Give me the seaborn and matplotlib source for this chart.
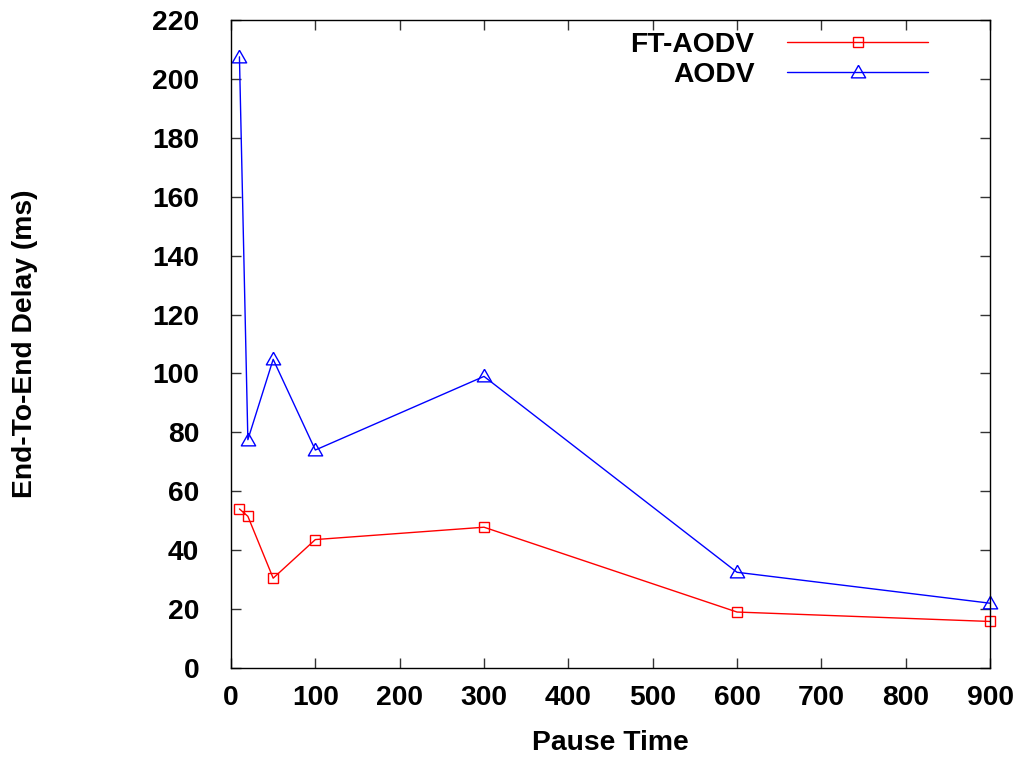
import matplotlib
matplotlib.use("Agg")
import matplotlib.pyplot as plt
import seaborn as sns
import pandas as pd

# Pause time (s) and end-to-end delay (ms) for each protocol
pause_time = [10, 20, 50, 100, 300, 600, 900]
ft_aodv_delay = [54.0, 51.5, 30.5, 43.6, 47.8, 19.0, 15.8]
aodv_delay = [207.5, 77.5, 104.8, 74.0, 99.0, 32.5, 22.0]
series_names = ["FT-AODV", "AODV"]

x_ticks = list(range(0, 1000, 100))
y_ticks = list(range(0, 240, 20))

df = pd.concat([
    pd.DataFrame({"Pause Time": pause_time, "Delay": ft_aodv_delay, "Protocol": series_names[0]}),
    pd.DataFrame({"Pause Time": pause_time, "Delay": aodv_delay, "Protocol": series_names[1]}),
])

sns.set_theme(style="ticks")
plt.rcParams["font.family"] = ["Liberation Sans", "DejaVu Sans"]
plt.rcParams["font.weight"] = "bold"
plt.rcParams["text.color"] = "black"
plt.rcParams["axes.labelcolor"] = "black"
plt.rcParams["xtick.labelcolor"] = "black"
plt.rcParams["ytick.labelcolor"] = "black"
FS = 20.3

fig = plt.figure(figsize=(10.3, 7.6), dpi=100)
ax = fig.add_axes([231 / 1030, 1 - 668 / 760, 759 / 1030, 648 / 760])

# gnuplot-style open triangle: wider than tall
tri = [(0, 1.0), (-1.0, -0.75), (1.0, -0.75), (0, 1.0)]

sns.lineplot(
    data=df, x="Pause Time", y="Delay", hue="Protocol", style="Protocol",
    hue_order=series_names, style_order=series_names,
    palette={"FT-AODV": "#ff0000", "AODV": "#0000ff"},
    markers={"FT-AODV": "s", "AODV": tri}, dashes=False,
    linewidth=1.0, markersize=7.4, markerfacecolor="none",
    markeredgewidth=1.0, sort=False, estimator=None, ax=ax,
)
# open markers in each line's colour, not clipped at the frame
for line in ax.get_lines():
    line.set_markeredgecolor(line.get_color())
    line.set_markerfacecolor("none")
    line.set_clip_on(False)
ax.get_lines()[1].set_markersize(10.3)

ax.set_xlim(0, 900)
ax.set_ylim(0, 220)
ax.set_xticks(x_ticks)
ax.set_yticks(y_ticks)
ax.tick_params(axis="both", direction="in", length=7, width=1, color="#333333",
               top=True, right=True, labelsize=FS, labelcolor="black")
ax.tick_params(axis="x", pad=12)
ax.tick_params(axis="y", pad=23)
for lab in ax.get_xticklabels() + ax.get_yticklabels():
    lab.set_fontweight("bold")
for s in ax.spines.values():
    s.set_visible(True)
    s.set_linewidth(1.0)
    s.set_color("black")

ax.set_xlabel("Pause Time", fontsize=FS, fontweight="bold", color="black")
ax.set_ylabel("End-To-End Delay (ms)", fontsize=FS, fontweight="bold", color="black")
ax.xaxis.label.set_va("center")
ax.xaxis.set_label_coords(0.5, (668 - 743) / 648)
ax.yaxis.label.set_va("center")
ax.yaxis.set_label_coords((25 - 231) / 759, 0.5)

handles, labels = ax.get_legend_handles_labels()
for h in handles:
    h.set_markerfacecolor("none")
    h.set_markeredgecolor(h.get_color())
    h.set_linewidth(1.0)
handles[0].set_markersize(7.4)
handles[1].set_markersize(10.3)
leg = ax.legend(
    handles, labels, loc="upper right",
    bbox_to_anchor=((928 - 231) / 759, 1 - (32 - 20) / 648),
    frameon=False, markerfirst=False, handlelength=5.0, handletextpad=1.15,
    labelspacing=0.15, borderpad=0, borderaxespad=0,
    prop={"size": FS, "weight": "bold"},
)
for t in leg.get_texts():
    t.set_color("black")

fig.savefig("out.png", dpi=100, facecolor="white")
